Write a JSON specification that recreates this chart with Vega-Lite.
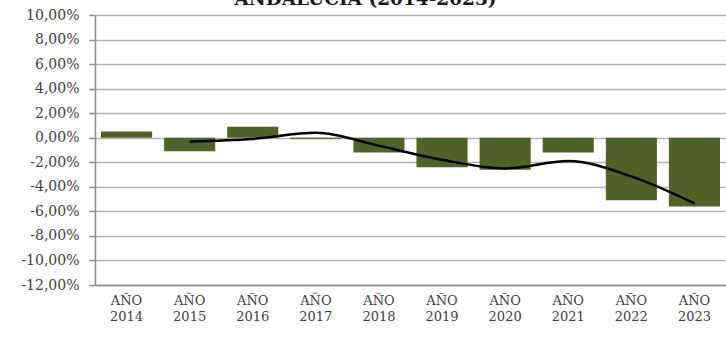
{
  "$schema": "https://vega.github.io/schema/vega-lite/v6.json",
  "autosize": {"type": "none"},
  "width": 631,
  "height": 270,
  "padding": {"left": 95, "top": 15, "right": 0, "bottom": 55},
  "background": "white",
  "title": {
    "text": "ANDALUCÍA (2014-2023)",
    "font": "DejaVu Serif",
    "fontSize": 18.5,
    "fontWeight": "bold",
    "color": "#1a1a1a",
    "anchor": "middle",
    "frame": "group",
    "dx": -45,
    "baseline": "bottom",
    "offset": -19
  },
  "config": {
    "locale": {
      "number": {"decimal": ",", "thousands": ".", "grouping": [3], "currency": ["", " €"], "minus": "-"}
    },
    "view": {"stroke": null},
    "axisY": {
      "values": [-0.12, -0.10, -0.08, -0.06, -0.04, -0.02, 0, 0.02, 0.04, 0.06, 0.08, 0.10],
      "format": ".2%",
      "labelOverlap": false,
      "labelFont": "DejaVu Serif",
      "labelFontSize": 14,
      "labelColor": "#404040",
      "labelPadding": 10,
      "tickSize": 6,
      "tickColor": "#8c8c8c",
      "tickWidth": 1.5,
      "domainColor": "#8c8c8c",
      "domainWidth": 1.5,
      "gridColor": "#b4b4b4",
      "gridWidth": 1.5,
      "gridOpacity": 1,
      "title": null
    }
  },
  "data": {
    "values": [
      {"cat": "AÑO 2014", "v": 0.005, "ma": null},
      {"cat": "AÑO 2015", "v": -0.011, "ma": -0.003},
      {"cat": "AÑO 2016", "v": 0.009, "ma": -0.001},
      {"cat": "AÑO 2017", "v": -0.001, "ma": 0.004},
      {"cat": "AÑO 2018", "v": -0.012, "ma": -0.0065},
      {"cat": "AÑO 2019", "v": -0.024, "ma": -0.018},
      {"cat": "AÑO 2020", "v": -0.026, "ma": -0.025},
      {"cat": "AÑO 2021", "v": -0.012, "ma": -0.019},
      {"cat": "AÑO 2022", "v": -0.051, "ma": -0.0315},
      {"cat": "AÑO 2023", "v": -0.056, "ma": -0.0535}
    ]
  },
  "encoding": {
    "x": {
      "field": "cat",
      "type": "nominal",
      "sort": null,
      "title": null,
      "scale": {"paddingInner": 0.19, "paddingOuter": 0.095},
      "axis": {
        "labelExpr": "split(datum.label, ' ')",
        "labelAngle": 0,
        "labelFont": "DejaVu Serif",
        "labelFontSize": 13,
        "labelColor": "#404040",
        "labelPadding": 9,
        "labelLineHeight": 16,
        "ticks": false,
        "domainColor": "#8c8c8c",
        "domainWidth": 1.5,
        "grid": false
      }
    }
  },
  "layer": [
    {
      "mark": {"type": "bar", "color": "#4f6228"},
      "encoding": {
        "y": {
          "field": "v",
          "type": "quantitative",
          "title": null,
          "scale": {"domain": [-0.12, 0.10], "nice": false, "zero": false}
        }
      }
    },
    {
      "mark": {"type": "line", "color": "#000000", "strokeWidth": 2.5, "interpolate": "monotone"},
      "encoding": {
        "y": {"field": "ma", "type": "quantitative", "title": null}
      }
    }
  ]
}
